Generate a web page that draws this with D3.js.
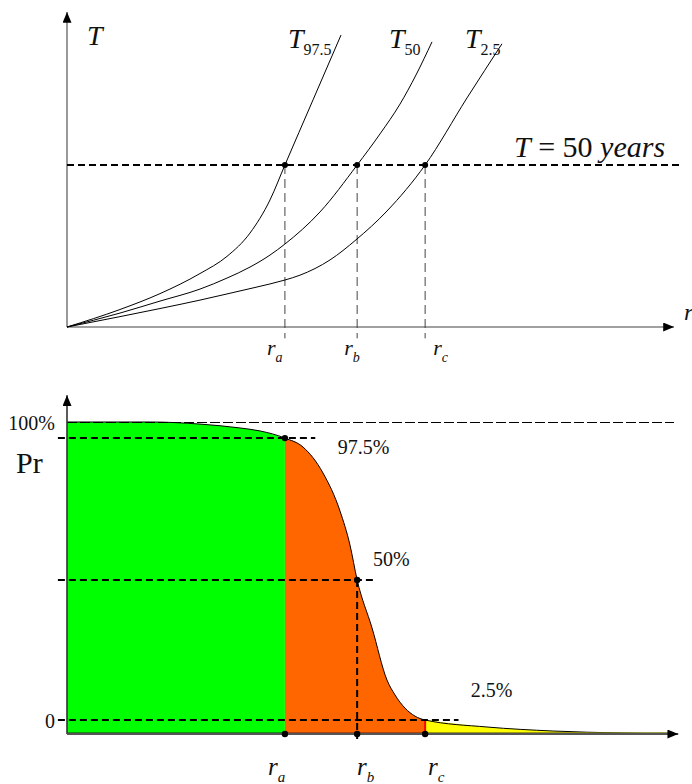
<!DOCTYPE html>
<html>
<head>
<meta charset="utf-8">
<script src="https://cdn.jsdelivr.net/npm/d3@7"></script>
<style>
  html, body { margin: 0; padding: 0; background: #fff; }
  svg { display: block; }
  text { font-family: "Liberation Serif", "Times New Roman", "DejaVu Serif", serif; fill: #111; }
</style>
</head>
<body>
<div id="chart"></div>
<script>
// ---------------- DATA ----------------
// Top panel: return period T (years) against r, three percentile curves
const t975R = [0, 0.873, 1.532, 2.191, 2.636, 3.015, 3.344, 3.59, 4.053, 4.514];
const t975T = [0, 5.4, 10.3, 16.5, 21.8, 29.0, 39.2, 50, 70.1, 90.1];
const t50R  = [0, 0.873, 1.532, 2.191, 2.636, 3.015, 3.344, 3.59, 4.168, 4.78, 5.157, 5.486, 5.75, 6.013];
const t50T  = [0, 4.3, 8.0, 11.7, 15.1, 18.5, 22.2, 25.6, 35.5, 50, 59.6, 68.8, 77.8, 88.0];
const t25R  = [0, 0.873, 1.532, 2.191, 2.636, 3.097, 3.59, 3.839, 4.333, 4.761, 5.272, 5.9, 6.59, 7.166];
const t25T  = [0, 3.2, 5.7, 8.3, 10.2, 12.2, 14.5, 16.0, 20.7, 26.9, 35.8, 50, 70.7, 87.4];
const curveLabels = ["97.5", "50", "2.5"];
const tLevel = 50;
const tLevelUnit = "years";

// Marked r values (r_a, r_b, r_c)
const markR = [3.59, 4.78, 5.9];
const markNames = ["a", "b", "c"];

// Bottom panel: probability curve Pr (%) against r
const probR  = [0, 1.37, 2.19, 2.85, 3.18, 3.59, 3.888, 4.217, 4.498, 4.662, 4.78, 5.025, 5.272, 5.404, 5.568, 5.733, 5.9, 6.92, 8.01, 9.11, 9.93];
const probPr = [100, 100, 99.3, 98.0, 97.0, 94.6, 91.6, 82.9, 70.1, 58.7, 47.0, 30.9, 13.4, 8.4, 4.0, 1.3, 0, -2.35, -3.7, -4.36, -4.7];
const markPr = [94.6, 47.0, 0];
const pctLabels = ["97.5%", "50%", "2.5%"];
const pctLabelR = [4.46, 5.04, 6.65];
const pctLabelPr = [89.3, 51.7, 7.7];
const prTicks = [100, 0];
const prTickLabels = ["100%", "0"];
const zoneColors = ["#00ff00", "#ff6600", "#ffff00"];

// ---------------- LAYOUT ----------------
const W = 692, H = 784;
const svg = d3.select("#chart").append("svg").attr("width", W).attr("height", H)
  .attr("font-family", "'Liberation Serif', 'Times New Roman', serif");

const x = d3.scaleLinear().domain([0, 10]).range([67, 674]);
const yT = d3.scaleLinear().domain([0, 100]).range([327, 3]);
const yP = d3.scaleLinear().domain([0, 100]).range([720, 422]);
const prBase = -4.7;

const defs = svg.append("defs");
defs.append("marker").attr("id", "arr").attr("viewBox", "0 0 12 10")
  .attr("refX", 12).attr("refY", 5).attr("markerWidth", 12).attr("markerHeight", 9)
  .attr("markerUnits", "userSpaceOnUse").attr("orient", "auto")
  .append("path").attr("d", "M0,0 L12,5 L0,10 Z").attr("fill", "#000");

const zip = (a, b) => a.map((v, i) => [v, b[i]]);

// ================= TOP PANEL =================
const gTop = svg.append("g");
gTop.append("line").attr("x1", x(0)).attr("y1", yT(0)).attr("x2", x(0)).attr("y2", yT(97.2))
  .attr("stroke", "#808080").attr("stroke-width", 1.6).attr("marker-end", "url(#arr)");
gTop.append("line").attr("x1", x(0)).attr("y1", yT(0)).attr("x2", x(10)).attr("y2", yT(0))
  .attr("stroke", "#808080").attr("stroke-width", 1.6).attr("marker-end", "url(#arr)");

gTop.append("line").attr("x1", x(0)).attr("x2", x(10.1)).attr("y1", yT(tLevel)).attr("y2", yT(tLevel))
  .attr("stroke", "#000").attr("stroke-width", 1.8).attr("stroke-dasharray", "7,4");

gTop.selectAll(".vd").data(markR).join("line")
  .attr("x1", d => x(d)).attr("x2", d => x(d))
  .attr("y1", yT(tLevel)).attr("y2", yT(-3.5))
  .attr("stroke", "#444").attr("stroke-width", 1).attr("stroke-dasharray", "9,5");

const lineT = d3.line().x(d => x(d[0])).y(d => yT(d[1])).curve(d3.curveMonotoneX);
const curves = [zip(t975R, t975T), zip(t50R, t50T), zip(t25R, t25T)];
gTop.selectAll(".crv").data(curves).join("path")
  .attr("d", lineT).attr("fill", "none").attr("stroke", "#000").attr("stroke-width", 1);

gTop.selectAll(".dt").data(markR).join("circle")
  .attr("cx", d => x(d)).attr("cy", yT(tLevel)).attr("r", 3).attr("fill", "#000");

gTop.append("text").attr("x", 87).attr("y", 45).attr("font-size", 28).attr("font-style", "italic").text("T");
const endPts = curves.map(c => c[c.length - 1]);
gTop.selectAll(".cl").data(curveLabels).join("text")
  .attr("x", (d, i) => x(endPts[i][0]) - [53, 43, 37][i])
  .attr("y", 48)
  .attr("font-size", 28)
  .each(function (d) {
    const t = d3.select(this);
    t.append("tspan").attr("font-style", "italic").text("T");
    t.append("tspan").attr("font-size", 16).attr("dy", 7).text(d);
  });

const tl = gTop.append("text").attr("x", 514).attr("y", yT(tLevel) - 8).attr("font-size", 30);
tl.append("tspan").attr("font-style", "italic").text("T");
tl.append("tspan").text(" = " + tLevel + " ");
tl.append("tspan").attr("font-style", "italic").text(tLevelUnit);

gTop.append("text").attr("x", 684).attr("y", 320).attr("font-size", 24).attr("font-style", "italic").text("r");

const topLabDx = [-18, -13, 8];
gTop.selectAll(".rl").data(markR).join("text")
  .attr("x", (d, i) => x(d) + topLabDx[i]).attr("y", 355).attr("font-size", 22)
  .each(function (d, i) {
    const t = d3.select(this);
    t.append("tspan").attr("font-style", "italic").text("r");
    t.append("tspan").attr("font-style", "italic").attr("font-size", 14).attr("dy", 7).text(markNames[i]);
  });

// ================= BOTTOM PANEL =================
const gBot = svg.append("g");
const probPts = zip(probR, probPr);
const segs = [
  probPts.filter(p => p[0] <= markR[0] + 1e-9),
  probPts.filter(p => p[0] >= markR[0] - 1e-9 && p[0] <= markR[2] + 1e-9),
  probPts.filter(p => p[0] >= markR[2] - 1e-9)
];
const area = d3.area().x(d => x(d[0])).y0(yP(prBase)).y1(d => yP(d[1])).curve(d3.curveMonotoneX);
gBot.selectAll(".zone").data(segs).join("path")
  .attr("d", area).attr("fill", (d, i) => zoneColors[i]);
const lineP = d3.line().x(d => x(d[0])).y(d => yP(d[1])).curve(d3.curveMonotoneX);
gBot.append("path").attr("d", lineP(probPts)).attr("fill", "none").attr("stroke", "#000").attr("stroke-width", 1);

gBot.selectAll(".base").data(segs).join("line")
  .attr("x1", d => x(d[0][0])).attr("x2", d => x(d[d.length - 1][0]))
  .attr("y1", yP(prBase) - 1).attr("y2", yP(prBase) - 1)
  .attr("stroke", (d, i) => ["#1a6b1a", "#8a3a10", "#7a7a10"][i]).attr("stroke-width", 1.5);

gBot.append("line").attr("x1", x(markR[2])).attr("x2", x(markR[2]))
  .attr("y1", yP(0)).attr("y2", yP(prBase)).attr("stroke", "#ff0000").attr("stroke-width", 2);

gBot.append("line").attr("x1", x(0)).attr("x2", x(10)).attr("y1", yP(100) + 0.5).attr("y2", yP(100) + 0.5)
  .attr("stroke", "#000").attr("stroke-width", 1).attr("stroke-dasharray", "10,3");

const levelEnds = [4.09, 5.05, 6.45];
gBot.selectAll(".lv").data(markPr).join("line")
  .attr("x1", x(-0.15)).attr("x2", (d, i) => x(levelEnds[i]))
  .attr("y1", d => yP(d)).attr("y2", d => yP(d))
  .attr("stroke", "#000").attr("stroke-width", 2).attr("stroke-dasharray", "7,4");

gBot.append("line").attr("x1", x(markR[1])).attr("x2", x(markR[1]))
  .attr("y1", yP(markPr[1])).attr("y2", yP(prBase) + 5)
  .attr("stroke", "#000").attr("stroke-width", 2).attr("stroke-dasharray", "7,4");

gBot.append("line").attr("x1", x(0)).attr("y1", yP(prBase)).attr("x2", x(0)).attr("y2", yP(109))
  .attr("stroke", "#333").attr("stroke-width", 1.6).attr("marker-end", "url(#arr)");
gBot.append("line").attr("x1", x(0)).attr("y1", yP(prBase)).attr("x2", x(10.07)).attr("y2", yP(prBase))
  .attr("stroke", "#555").attr("stroke-width", 2).attr("marker-end", "url(#arr)");

gBot.selectAll(".cd").data(markR.slice(0, 2)).join("circle")
  .attr("cx", d => x(d)).attr("cy", (d, i) => yP(markPr[i])).attr("r", 3.2).attr("fill", "#000");
gBot.selectAll(".ad").data(markR).join("circle")
  .attr("cx", d => x(d)).attr("cy", yP(prBase)).attr("r", 3.2).attr("fill", "#000");

gBot.selectAll(".tk").data(prTicks).join("text")
  .attr("x", 55).attr("y", d => yP(d) + 8).attr("text-anchor", "end").attr("font-size", 20)
  .text((d, i) => prTickLabels[i]);
gBot.append("text").attr("x", 16).attr("y", 473).attr("font-size", 30).text("Pr");

gBot.selectAll(".pl").data(pctLabels).join("text")
  .attr("x", (d, i) => x(pctLabelR[i])).attr("y", (d, i) => yP(pctLabelPr[i]))
  .attr("font-size", 20).text(d => d);

const botLabX = [268, 357, 428];
gBot.selectAll(".brl").data(markR).join("text")
  .attr("x", (d, i) => botLabX[i]).attr("y", 775).attr("font-size", 25)
  .each(function (d, i) {
    const t = d3.select(this);
    t.append("tspan").attr("font-style", "italic").text("r");
    t.append("tspan").attr("font-style", "italic").attr("font-size", 15).attr("dy", 7).text(markNames[i]);
  });
</script>
</body>
</html>
